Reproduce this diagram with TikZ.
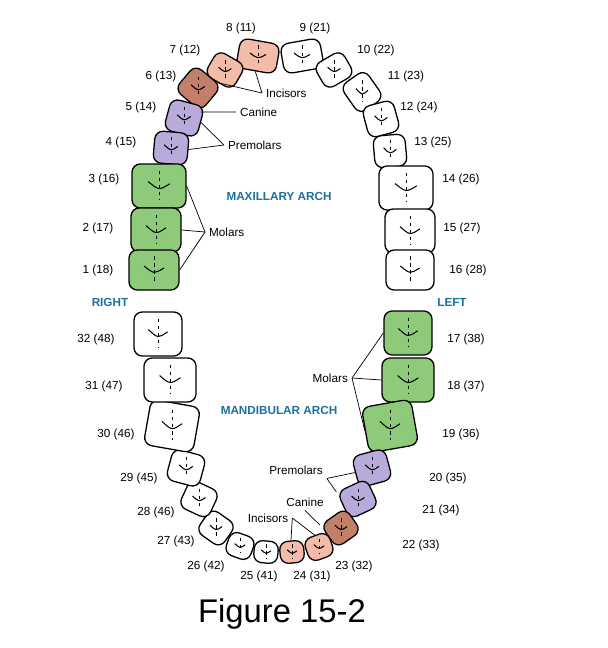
\documentclass[tikz,border=0pt]{standalone}
\usepackage{fontspec}
\setmainfont{Liberation Sans}
\usetikzlibrary{positioning,calc}
\definecolor{incis}{HTML}{F4BBA9}
\definecolor{canin}{HTML}{C2806B}
\definecolor{premol}{HTML}{B8AADB}
\definecolor{molar}{HTML}{8DCB7B}
\definecolor{archblue}{HTML}{1D6FA0}
\tikzset{
  tooth/.style={draw, line width=1.1pt, rounded corners=7pt, inner sep=0pt},
  num/.style={font=\fontsize{10}{12}\selectfont},
  arch/.style={font=\fontsize{10}{12}\selectfont\bfseries, text=archblue},
  callout/.style={font=\fontsize{10}{12}\selectfont},
  lead/.style={line width=0.6pt}
}
\begin{document}
\begin{tikzpicture}[x=0.03cm,y=-0.03cm]
	\useasboundingbox (0,0) rectangle (607,648);

	% upper and lower arch: number/x/y/width/height/colour/rotation
	\foreach \n/\x/\y/\w/\h/\c/\r in {
	    8/258/56/40/30/incis/-10, 7/225/70/32/28/incis/-30, 6/198/88/34/32/canin/-40,
	    5/184/118/34/32/premol/-15, 4/171/148/34/32/premol/-5,
	    3/159/186/54/44/molar/0, 2/156/230/50/44/molar/0, 1/154/270/50/40/molar/0,
	    9/302/56/40/30/white/10, 10/334/70/32/28/white/30, 11/362/92/30/34/white/35,
	    12/381/119/32/32/white/15, 13/390/151/32/32/white/5,
	    14/406/188/54/44/white/0, 15/410/231/50/44/white/0, 16/410/270/48/40/white/0,
	    17/408/333/48/44/molar/0, 18/408/380/52/44/molar/0, 19/390/426/50/46/molar/10,
	    20/372/468/34/32/premol/15, 21/358/499/32/30/premol/25, 22/341/528/30/28/canin/35,
	    23/319/547/26/24/incis/20, 24/292/552/24/22/incis/5,
	    25/266/552/24/22/white/-5, 26/240/546/26/24/white/-20, 27/216/528/30/28/white/-35,
	    28/199/499/32/30/white/-25, 29/186/468/34/32/white/-15,
	    30/172/426/50/46/white/-10, 31/170/380/52/44/white/0, 32/158/334/48/44/white/0}{
	    \node[tooth, fill=\c, minimum width=\w*0.03cm, minimum height=\h*0.03cm, rotate=\r] (t\n) at (\x,\y) {};
	    \draw[line width=0.9pt] ($(t\n.center)+(-0.2*\w,-0.1*\h)$) .. controls ($(t\n.center)+(0,0.1*\h)$) .. ($(t\n.center)+(0.2*\w,-0.05*\h)$);
	    \draw[line width=0.5pt, dashed] ($(t\n.center)+(0,-0.35*\h)$) -- ($(t\n.center)+(0,0.3*\h)$);
	}

	% numbers
	\foreach \lbl/\x/\y in {8 (11)/241/28, 9 (21)/315/28, 7 (12)/185/50, 10 (22)/376/50,
	    6 (13)/161/76, 11 (23)/406/76, 5 (14)/141/107, 12 (24)/419/107,
	    4 (15)/121/142, 13 (25)/433/142, 3 (16)/104/179, 14 (26)/461/179,
	    2 (17)/98/228, 15 (27)/462/228, 1 (18)/98/270, 16 (28)/468/270,
	    32 (48)/96/339, 17 (38)/466/339, 31 (47)/104/386, 18 (37)/466/386,
	    30 (46)/116/434, 19 (36)/461/434, 29 (45)/139/478, 20 (35)/448/478,
	    28 (46)/156/512, 21 (34)/441/510, 27 (43)/176/541, 22 (33)/421/545,
	    26 (42)/206/566, 25 (41)/259/576, 24 (31)/312/576, 23 (32)/354/566}{
	    \node[num] at (\x,\y) {\lbl};
	}

	\node[arch] (right) at (110,302) {RIGHT};
	\node[arch] (left) at (452,302) {LEFT};
	\node[arch] (maxi) at (279,196) {MAXILLARY ARCH};
	\node[arch] (mand) at (279,410) {MANDIBULAR ARCH};

	% upper callouts
	\node[callout, anchor=west] (uinc) at (262,93) {Incisors};
	\node[callout, anchor=west] (ucan) at (236,112) {Canine};
	\node[callout, anchor=west] (upre) at (224,145) {Premolars};
	\node[callout, anchor=west] (umol) at (205,232) {Molars};
	\draw[lead] (uinc.west) -- (t7.south);
	\draw[lead] (uinc.west) -- (t8.south);
	\draw[lead] (ucan.west) -- (t6.south east);
	\draw[lead] (upre.west) -- (t5.east);
	\draw[lead] (upre.west) -- (t4.east);
	\draw[lead] (umol.west) -- (t3.east);
	\draw[lead] (umol.west) -- (t2.east);
	\draw[lead] (umol.west) -- (t1.east);

	% lower callouts
	\node[callout, anchor=east] (lmol) at (352,378) {Molars};
	\node[callout] (lpre) at (296,470) {Premolars};
	\node[callout] (lcan) at (305,502) {Canine};
	\node[callout] (linc) at (268,518) {Incisors};
	\draw[lead] (lmol.east) -- (t17.west);
	\draw[lead] (lmol.east) -- (t18.west);
	\draw[lead] (lmol.east) -- (t19.west);
	\draw[lead] (lpre.south east) -- (t20.west);
	\draw[lead] (lpre.south east) -- (t21.north west);
	\draw[lead] (lcan.south) -- (t22.north west);
	\draw[lead] (linc.east) -- (t23.north);
	\draw[lead] (linc.east) -- (t24.north);

	\node[font=\fontsize{28}{32}\selectfont] (fig) at (282,614) {Figure 15-2};
\end{tikzpicture}
\end{document}
